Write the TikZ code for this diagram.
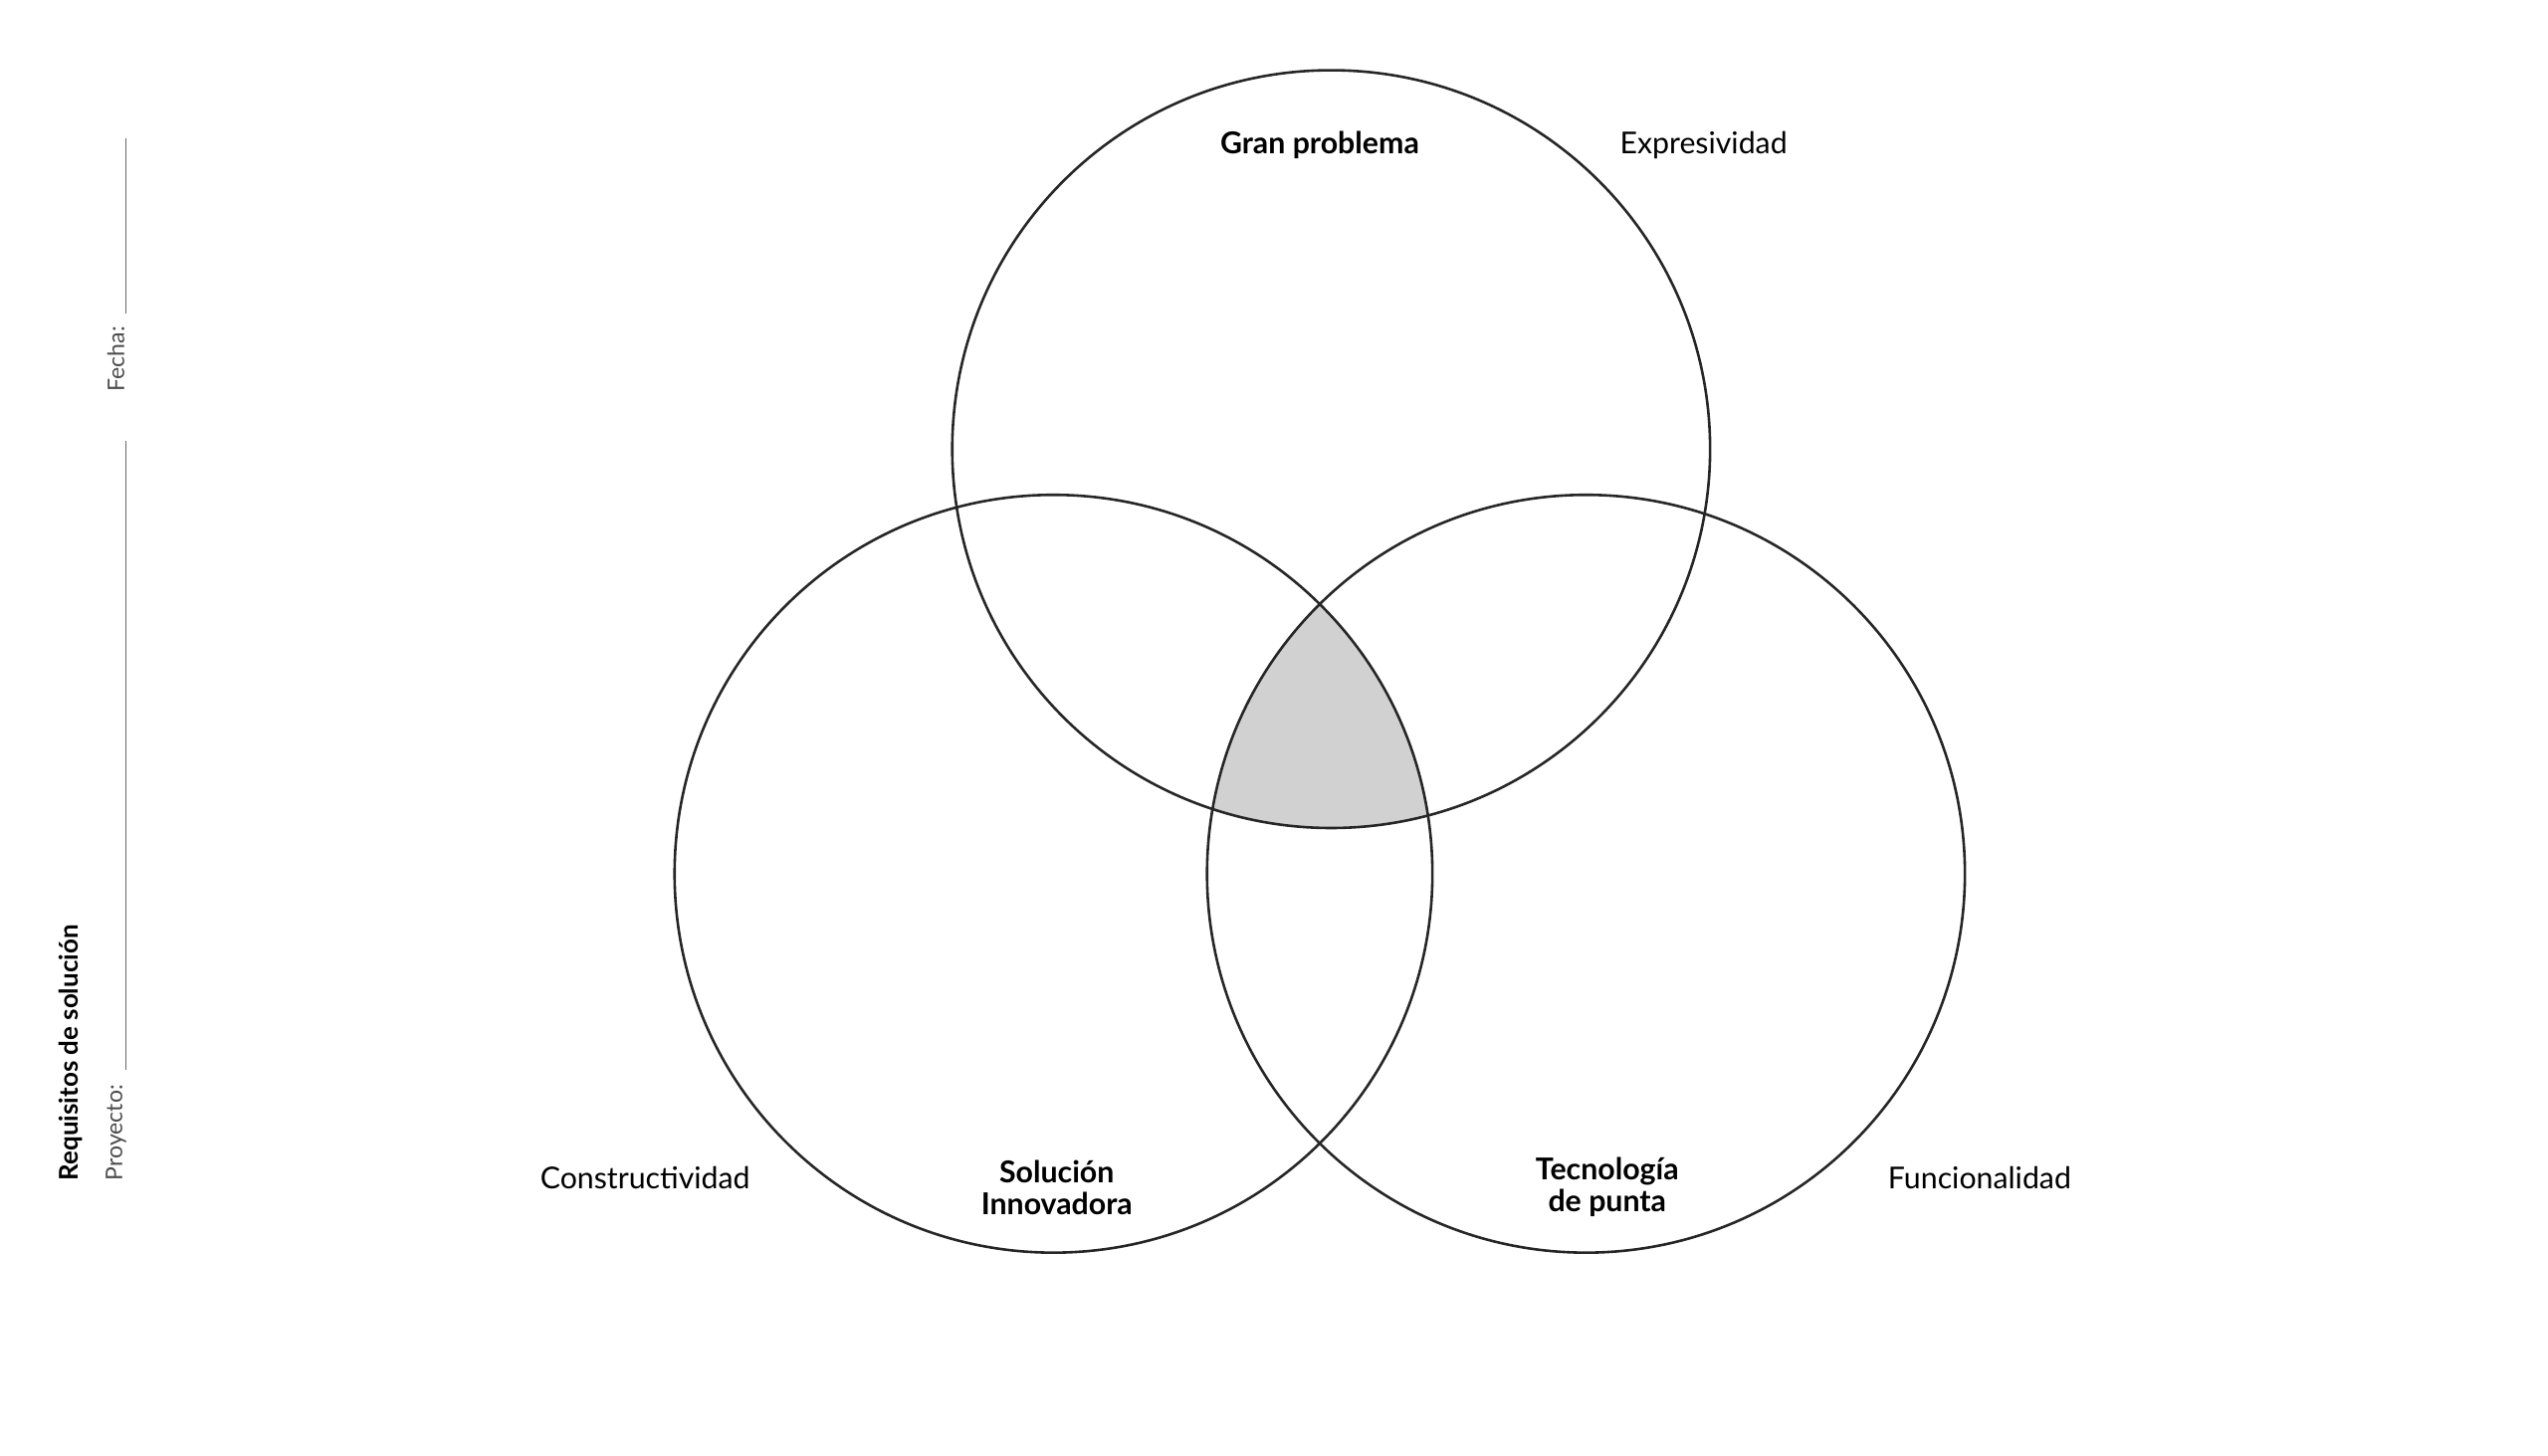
\documentclass[tikz,border=0pt]{standalone}
\usepackage{fontspec}
\setmainfont{Lato}
\begin{document}
\begin{tikzpicture}[x=0.02cm,y=-0.02cm,
    ring/.style={draw=black!85,line width=0.9pt},
    bold label/.style={font=\bfseries\fontsize{10.5}{11}\selectfont,align=center},
    light label/.style={font=\fontsize{10.5}{11}\selectfont},
    side label/.style={font=\fontsize{8}{9}\selectfont,rotate=90}]
    \useasboundingbox (0,0) rectangle (1560,891);

    % shaded centre
    \begin{scope}
        \clip (815,275) circle (232);
        \clip (645,535) circle (232);
        \fill[black!18] (971,535) circle (232);
    \end{scope}

    % circles
    \draw[ring] (815,275) circle (232);
    \draw[ring] (645,535) circle (232);
    \draw[ring] (971,535) circle (232);

    % labels
    \node[bold label] (gran) at (808,89) {Gran problema};
    \node[light label] (expr) at (1043,89) {Expresividad};
    \node[light label] (cons) at (395,721) {Constructividad};
    \node[bold label] (sol) at (647,727) {Solución\\Innovadora};
    \node[bold label] (tec) at (984,727) {Tecnología\\de punta};
    \node[light label] (func) at (1212,721) {Funcionalidad};

    % side fields
    \node[side label,font=\bfseries\fontsize{9}{10}\selectfont,anchor=west] (req) at (43,729) {Requisitos de solución};
    \node[side label,anchor=west,text=black!70] (proy) at (71,729) {Proyecto:};
    \node[side label,anchor=west,text=black!70] (fecha) at (71,246) {Fecha:};
    \draw[black!60,line width=0.5pt] (77,655) -- (77,270);
    \draw[black!60,line width=0.5pt] (77,192) -- (77,85);
\end{tikzpicture}
\end{document}
